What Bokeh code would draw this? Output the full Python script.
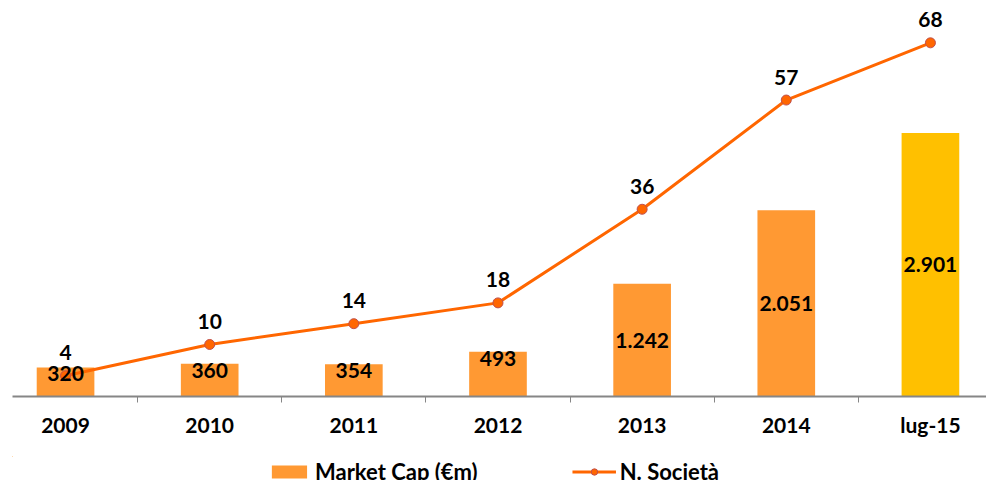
from bokeh.plotting import figure
from bokeh.layouts import column
from bokeh.models import Range1d, FixedTicker, ColumnDataSource, Legend, LegendItem
from bokeh.core.properties import value
from bokeh.embed import file_html
from bokeh.resources import INLINE

categories = ["2009", "2010", "2011", "2012", "2013", "2014", "lug-15"]
market_cap = [320, 360, 354, 493, 1242, 2051, 2901]
market_cap_labels = ["320", "360", "354", "493", "1.242", "2.051", "2.901"]
n_societa = [4, 10, 14, 18, 36, 57, 68]
bar_colors = ["#FF9933"] * 6 + ["#FFC000"]

FONT = "Lato"
BAR_ORANGE = "#FF9933"
LINE_ORANGE = "#FF6600"
MARKER_EDGE = "#C0504D"
xs = list(range(len(categories)))

p = figure(frame_width=974, frame_height=388, output_backend="svg", toolbar_location=None,
           x_range=Range1d(-0.368, 6.389), y_range=Range1d(0, 4273),
           y_axis_location=None,
           min_border_left=12, min_border_right=0, min_border_top=8, min_border_bottom=60)
p.extra_y_ranges = {"n": Range1d(0, 74.6)}
p.outline_line_color = None
p.xgrid.grid_line_color = None
p.ygrid.grid_line_color = None

src = ColumnDataSource(dict(x=xs, cap=market_cap, lab=market_cap_labels,
                            n=n_societa, nlab=[str(v) for v in n_societa],
                            color=bar_colors))

p.vbar(x="x", top="cap", width=0.4, source=src, fill_color="color", line_color=None)
p.line(x="x", y="n", source=src, y_range_name="n", line_color=LINE_ORANGE, line_width=3)
p.scatter(x="x", y="n", source=src, y_range_name="n", size=10,
          fill_color=LINE_ORANGE, line_color=MARKER_EDGE, line_width=1)

# bar labels: small bars labelled at the top inside, large bars centered
small = [i for i, v in enumerate(market_cap) if v < 800]
large = [i for i, v in enumerate(market_cap) if v >= 800]
src_small = ColumnDataSource(dict(x=[xs[i] for i in small], y=[market_cap[i] for i in small],
                                  t=[market_cap_labels[i] for i in small]))
src_large = ColumnDataSource(dict(x=[xs[i] for i in large], y=[market_cap[i] / 2 for i in large],
                                  t=[market_cap_labels[i] for i in large]))
common = dict(text_font=value(FONT), text_font_style="bold", text_font_size="21px",
              text_color="black", text_align="center")
p.text(x="x", y="y", text="t", source=src_small, text_baseline="top", y_offset=-1, **common)
p.text(x="x", y="y", text="t", source=src_large, text_baseline="middle", **common)
p.text(x="x", y="n", text="nlab", source=src, y_range_name="n", text_baseline="middle",
       y_offset=-23, **common)

ax = p.xaxis[0]
ax.ticker = FixedTicker(ticks=xs, minor_ticks=[i + 0.5 for i in xs[:-1]])
ax.major_label_overrides = {i: c for i, c in zip(xs, categories)}
ax.major_tick_line_color = None
ax.major_tick_out = 0
ax.major_tick_in = 0
ax.minor_tick_out = 6
ax.minor_tick_in = 0
ax.minor_tick_line_color = "#868686"
ax.minor_tick_line_width = 1
ax.axis_line_color = "#868686"
ax.axis_line_width = 2
ax.major_label_standoff = 9
ax.major_label_text_font = FONT
ax.major_label_text_font_style = "bold"
ax.major_label_text_font_size = "21px"
ax.major_label_text_color = "black"

# legend strip: same series drawn into a strip whose ranges keep them well out of view
lg = figure(frame_width=986, frame_height=30, output_backend="svg", toolbar_location=None,
            x_range=Range1d(100, 101), y_range=Range1d(-200, -100),
            x_axis_location=None, y_axis_location=None,
            min_border_left=0, min_border_right=0, min_border_top=0, min_border_bottom=0)
lg.outline_line_color = None
lg.xgrid.grid_line_color = None
lg.ygrid.grid_line_color = None
lbars = lg.vbar(x="x", top="cap", bottom=0, width=0.4, source=src,
                fill_color=BAR_ORANGE, line_color=None)
lline = lg.line(x="x", y="n", source=src, line_color=LINE_ORANGE, line_width=3)
lpts = lg.scatter(x="x", y="n", source=src, size=10,
                  fill_color=LINE_ORANGE, line_color=MARKER_EDGE, line_width=1)

legend = Legend(items=[LegendItem(label="Market Cap (€m)", renderers=[lbars], index=0),
                       LegendItem(label="N. Società", renderers=[lline, lpts])],
                orientation="horizontal", location="center", spacing=94,
                glyph_width=44, glyph_height=16, label_standoff=4,
                label_text_font=FONT, label_text_font_style="bold",
                label_text_font_size="22px", label_text_color="black",
                border_line_color=None, background_fill_alpha=0,
                padding=0, margin=0)
lg.add_layout(legend, "center")

layout = column(p, lg, spacing=0)
open("out.html", "w").write(file_html(layout, INLINE))
